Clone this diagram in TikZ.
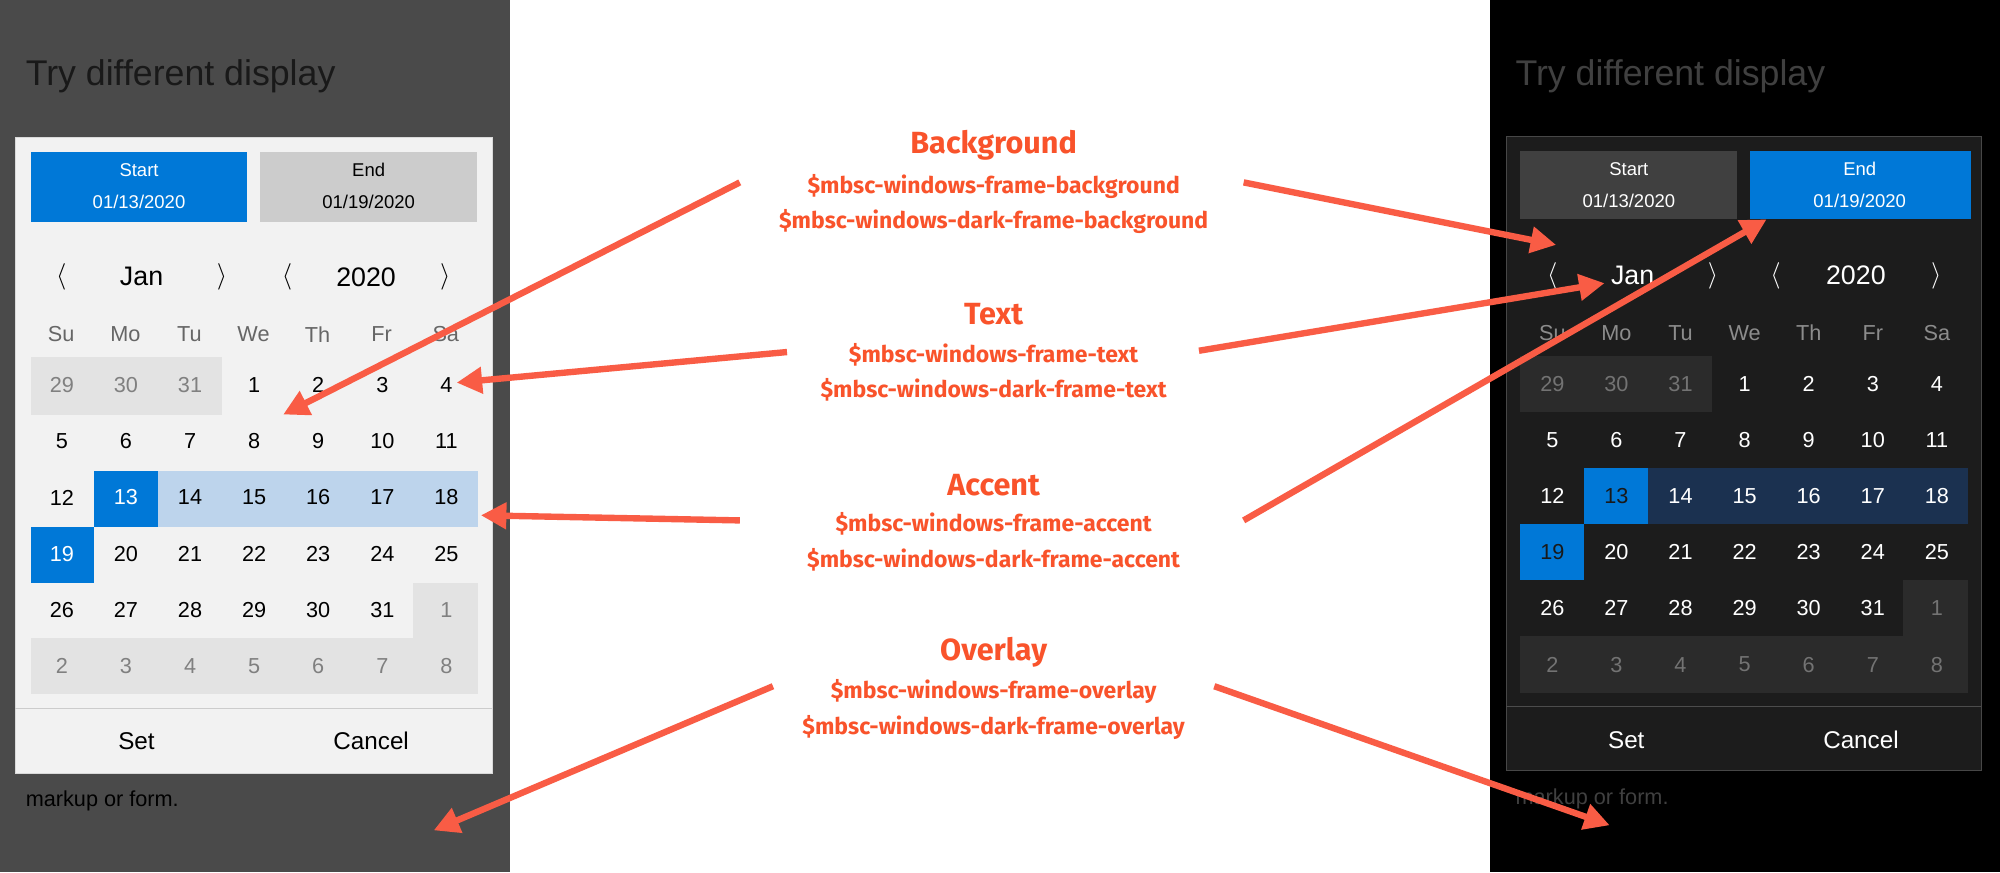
\documentclass[tikz,border=0pt]{standalone}
\usepackage{fontspec}
\setmainfont{Liberation Sans}
\newfontfamily\labelfont{Fira Sans}
\usetikzlibrary{positioning,arrows.meta}
\definecolor{accentblue}{HTML}{0078D7}
\definecolor{rangelight}{HTML}{BDD4EC}
\definecolor{rangedark}{HTML}{1B3150}
\definecolor{callout}{HTML}{F95C45}
\definecolor{labeltext}{HTML}{F9532B}
\tikzset{
    every node/.style={inner sep=0pt},
    title/.style={anchor=west, font=\fontsize{28}{30}\selectfont},
    navtext/.style={font=\fontsize{21}{24}\selectfont},
    btntext/.style={font=\fontsize{14.5}{16}\selectfont, align=center},
    head/.style={font=\fontsize{17}{20}\selectfont},
    lhead/.style={head, text=black!60},
    rhead/.style={head, text=black!45},
    day/.style={font=\fontsize{17}{20}\selectfont},
    ldayn/.style={day, text=black},
    ldayo/.style={day, text=black!50},
    ldays/.style={day, text=white},
    rdayn/.style={day, text=white},
    rdayo/.style={day, text=black!55},
    rdays/.style={day, text=black!90},
    big/.style={font=\labelfont\bfseries\fontsize{24}{26}\selectfont, text=labeltext},
    var/.style={font=\labelfont\bfseries\fontsize{18}{20}\selectfont, text=labeltext},
    callarrow/.style={draw=callout, line width=5pt, -{Triangle[length=20pt,width=20pt]}}
}
% one month of days, #1 = panel prefix, #2/#3 = centre of first cell
\newcommand\daygrid[3]{%
  \foreach \r/\week in {0/{29/o,30/o,31/o,1/n,2/n,3/n,4/n},
                        1/{5/n,6/n,7/n,8/n,9/n,10/n,11/n},
                        2/{12/n,13/s,14/n,15/n,16/n,17/n,18/n},
                        3/{19/s,20/n,21/n,22/n,23/n,24/n,25/n},
                        4/{26/n,27/n,28/n,29/n,30/n,31/n,1/o},
                        5/{2/o,3/o,4/o,5/o,6/o,7/o,8/o}}{
    \foreach \d/\t [count=\c] in \week
      \node[#1day\t] (#1d\r\c) at ({#2+50.25*(\c-1)},{#3+44*\r}) {\d};
  }%
}
\begin{document}
\begin{tikzpicture}[x=1pt, y=-1pt]
\useasboundingbox (0,0) rectangle (1568,684);
\fill[white] (0,0) rectangle (1568,684);

%% light panel
\fill[black!71] (0,0) rectangle (400,684);
\node[title, text=black!90] (ltitle) at (20,60) {Try different display};
\node[anchor=west, font=\fontsize{17}{20}\selectfont] (lmarkup) at (20,628) {markup or form.};
\draw[fill=black!5, draw=black!15] (12,108) rectangle (386,606);
\fill[accentblue] (24,119) rectangle (194,174);
\fill[black!20] (204,119) rectangle (374,174);
\node[btntext, text=white] (lstart) at (109,146) {Start\\[9pt]01/13/2020};
\node[btntext] (lend) at (289,146) {End\\[9pt]01/19/2020};
\foreach \x/\s [count=\i] in {48/$\langle$,111/Jan,174/$\rangle$,225/$\langle$,287/2020,349/$\rangle$}
  \node[navtext] (lnav\i) at (\x,217) {\s};
\foreach \s [count=\i] in {Su,Mo,Tu,We,Th,Fr,Sa}
  \node[lhead] (lh\i) at ({48+50.25*(\i-1)},262) {\s};
\fill[black!11] (24,280) rectangle (174,325);
\fill[black!11] (324,457) rectangle (375,500);
\fill[black!11] (24,500) rectangle (375,544);
\fill[accentblue] (74,369) rectangle (124,413);
\fill[rangelight] (124,369) rectangle (375,413);
\fill[accentblue] (24,413) rectangle (74,457);
\daygrid{l}{48.5}{302}
\draw[black!20] (12,555) -- (386,555);
\node[font=\fontsize{19}{22}\selectfont] (lset) at (107,581) {Set};
\node[font=\fontsize{19}{22}\selectfont] (lcancel) at (291,581) {Cancel};

%% dark panel
\fill[black] (1168,0) rectangle (1568,684);
\node[title, text=black!75] (rtitle) at (1188,60) {Try different display};
\node[anchor=west, font=\fontsize{17}{20}\selectfont, text=black!75] (rmarkup) at (1188,626) {markup or form.};
\draw[fill=black!89, draw=black!72] (1181,107) rectangle (1553,604);
\fill[black!75] (1192,118) rectangle (1362,172);
\fill[accentblue] (1372,118) rectangle (1545,172);
\node[btntext, text=white] (rstart) at (1277,145) {Start\\[9pt]01/13/2020};
\node[btntext, text=white] (rend) at (1458,145) {End\\[9pt]01/19/2020};
\foreach \x/\s [count=\i] in {1217/$\langle$,1280/Jan,1343/$\rangle$,1392/$\langle$,1455/2020,1518/$\rangle$}
  \node[navtext, text=white] (rnav\i) at (\x,216) {\s};
\foreach \s [count=\i] in {Su,Mo,Tu,We,Th,Fr,Sa}
  \node[rhead] (rh\i) at ({1217+50.25*(\i-1)},261) {\s};
\fill[black!83] (1192,279) rectangle (1342,323);
\fill[black!83] (1492,455) rectangle (1543,499);
\fill[black!83] (1192,499) rectangle (1543,543);
\fill[accentblue] (1242,367) rectangle (1292,411);
\fill[rangedark] (1292,367) rectangle (1543,411);
\fill[accentblue] (1192,411) rectangle (1242,455);
\daygrid{r}{1217}{301}
\draw[black!70] (1181,554) -- (1553,554);
\node[font=\fontsize{19}{22}\selectfont, text=white] (rset) at (1275,580) {Set};
\node[font=\fontsize{19}{22}\selectfont, text=white] (rcancel) at (1459,580) {Cancel};

%% labels
\node[big] (bg) at (779,114) {Background};
\node[var] (bg1) at (779,146) {\$mbsc-windows-frame-background};
\node[var] (bg2) at (779,174) {\$mbsc-windows-dark-frame-background};
\node[big] (tx) at (779,246) {Text};
\node[var] (tx1) at (779,278) {\$mbsc-windows-frame-text};
\node[var] (tx2) at (779,306) {\$mbsc-windows-dark-frame-text};
\node[big] (ac) at (779,380) {Accent};
\node[var] (ac1) at (779,411) {\$mbsc-windows-frame-accent};
\node[var] (ac2) at (779,439) {\$mbsc-windows-dark-frame-accent};
\node[big] (ov) at (779,511) {Overlay};
\node[var] (ov1) at (779,542) {\$mbsc-windows-frame-overlay};
\node[var] (ov2) at (779,570) {\$mbsc-windows-dark-frame-overlay};

%% arrows
\coordinate (bgl) at (580,143);  \coordinate (bgle) at (222,325);
\coordinate (bgr) at (975,143);  \coordinate (bgre) at (1220,192);
\coordinate (txl) at (617,276);  \coordinate (txle) at (358,300);
\coordinate (txr) at (940,275);  \coordinate (txre) at (1258,222);
\coordinate (acl) at (580,408);  \coordinate (acle) at (377,404);
\coordinate (acr) at (975,408);  \coordinate (acre) at (1385,172);
\coordinate (ovl) at (606,538);  \coordinate (ovle) at (340,651);
\coordinate (ovr) at (952,538);  \coordinate (ovre) at (1262,647);
\foreach \a in {bgl,bgr,txl,txr,acl,acr,ovl,ovr}
  \draw[callarrow] (\a) -- (\a e);
\end{tikzpicture}
\end{document}
